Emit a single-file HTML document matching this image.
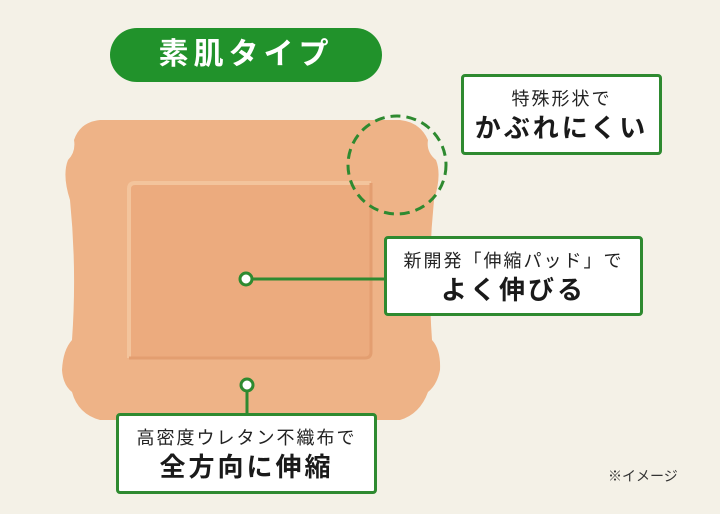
<!DOCTYPE html>
<html><head><meta charset="utf-8"><style>
body{margin:0;width:720px;height:514px;background:#f4f1e7;overflow:hidden;position:relative;font-family:"Liberation Sans","Noto Sans CJK JP",sans-serif}
.pill{position:absolute;left:110px;top:28px;width:272px;height:54px;border-radius:27px;background:#21922b;color:#fff;font-size:30px;font-weight:bold;text-align:center;line-height:54px;letter-spacing:5px}
.box{position:absolute;background:#fff;border:3px solid #2e8a30;border-radius:4px;text-align:center;color:#222;box-sizing:border-box}
.s{font-size:18px;letter-spacing:2px;line-height:24px}
.b{font-size:26px;font-weight:bold;letter-spacing:3px;line-height:34px;color:#1a1a1a}
</style></head><body>
<svg width="720" height="514" style="position:absolute;left:0;top:0">
<path d="M100,120 L400,120 Q420,122 428,140 Q426,152 436,160 Q442,175 434,200 Q427,270 432,340 Q441,350 440,370 Q437,385 428,392 Q420,414 400,420 L100,420 Q78,414 72,392 Q63,385 62,370 Q63,350 72,340 Q77,270 70,200 Q62,175 68,160 Q76,152 74,140 Q80,122 100,120 Z" fill="#eeb387"/>
<rect x="129" y="183" width="242" height="175" rx="6" fill="#ecab7e"/>
<path d="M129,358 L129,189 Q129,183 135,183 L371,183" fill="none" stroke="#f3c49c" stroke-width="4"/>
<path d="M129,358 L365,358 Q371,358 371,352 L371,183" fill="none" stroke="#e39e70" stroke-width="3"/>
<circle cx="397" cy="165" r="49" fill="none" stroke="#2e8a30" stroke-width="3" stroke-dasharray="10 6"/>
<line x1="250" y1="279" x2="386" y2="279" stroke="#2e8a30" stroke-width="3"/>
<circle cx="246" cy="279" r="6" fill="#fff" stroke="#2e8a30" stroke-width="3"/>
<line x1="247" y1="391" x2="247" y2="414" stroke="#2e8a30" stroke-width="3"/>
<circle cx="247" cy="385" r="6" fill="#fff" stroke="#2e8a30" stroke-width="3"/>
</svg>
<div class="pill">素肌タイプ</div>
<div class="box" style="left:461px;top:74px;width:201px;height:81px;padding-top:10px"><div class="s">特殊形状で</div><div class="b">かぶれにくい</div></div>
<div class="box" style="left:384px;top:236px;width:259px;height:80px;padding-top:10px"><div class="s">新開発「伸縮パッド」で</div><div class="b">よく伸びる</div></div>
<div class="box" style="left:116px;top:413px;width:261px;height:81px;padding-top:10px"><div class="s">高密度ウレタン不織布で</div><div class="b">全方向に伸縮</div></div>
<div style="position:absolute;left:608px;top:466px;font-size:14px;color:#333">※イメージ</div>
</body></html>
